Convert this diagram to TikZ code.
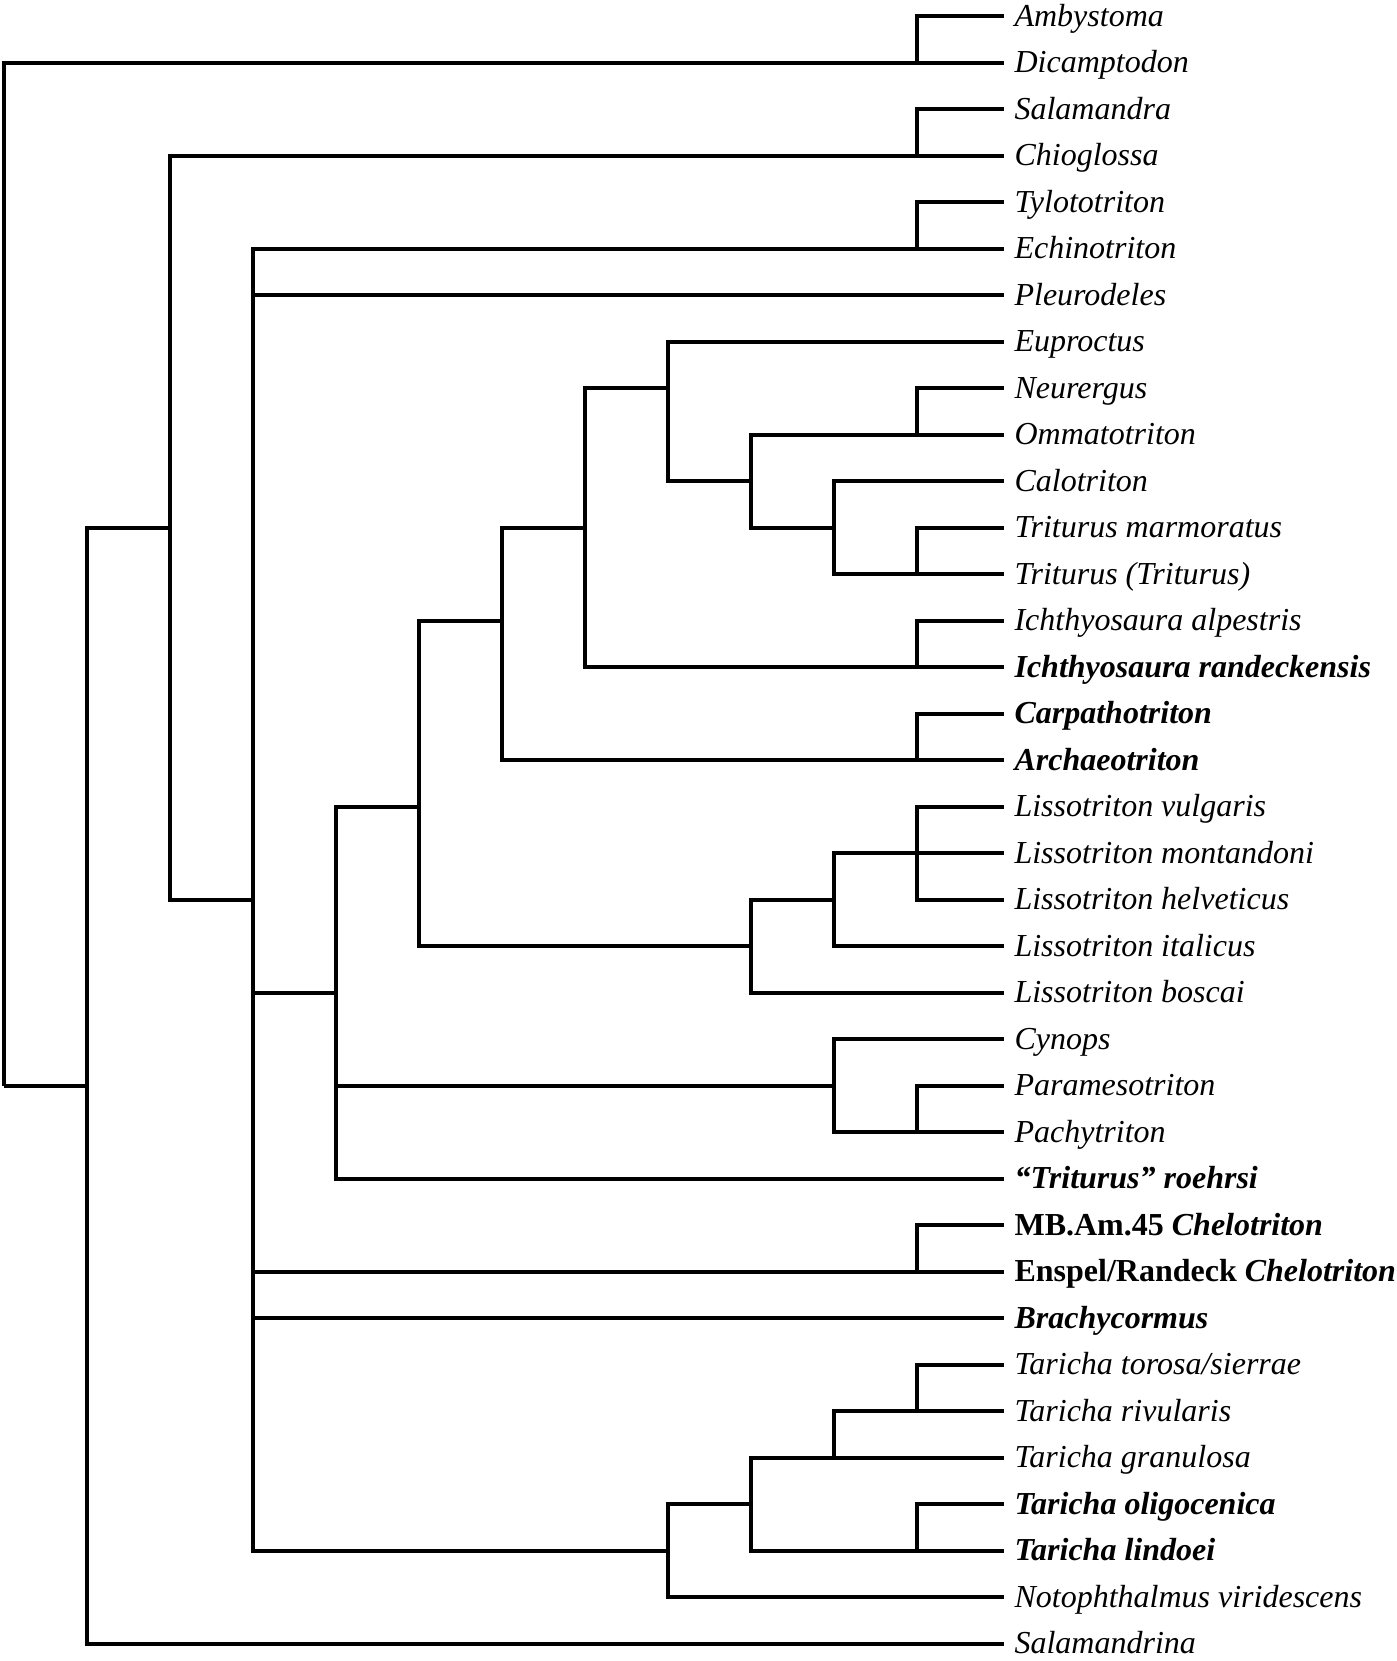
\documentclass[tikz,border=0pt]{standalone}
\usepackage{fontspec}
\setmainfont{Liberation Serif}
\tikzset{
  branch/.style={line width=2pt},
  taxon/.style={anchor=west, inner xsep=5pt, inner ysep=0pt,
    text height=12pt, text depth=2pt,
    font=\fontsize{16}{19}\selectfont\itshape},
  fossil/.style={taxon, font=\fontsize{16}{19}\selectfont\bfseries\itshape},
}
\begin{document}
\begin{tikzpicture}[
        x=41.5pt,
        y=-23.25pt,
        ]
        \useasboundingbox (-0.048,-0.344) rectangle (16.783,35.376);
        % taxa
        \node[taxon] (amb) at (12.05,0) {Ambystoma};
        \node[taxon] (dic) at (12.05,1) {Dicamptodon};
        \node[taxon] (sala) at (12.05,2) {Salamandra};
        \node[taxon] (chio) at (12.05,3) {Chioglossa};
        \node[taxon] (tylo) at (12.05,4) {Tylototriton};
        \node[taxon] (echi) at (12.05,5) {Echinotriton};
        \node[taxon] (pleu) at (12.05,6) {Pleurodeles};
        \node[taxon] (eupr) at (12.05,7) {Euproctus};
        \node[taxon] (neur) at (12.05,8) {Neurergus};
        \node[taxon] (omma) at (12.05,9) {Ommatotriton};
        \node[taxon] (calo) at (12.05,10) {Calotriton};
        \node[taxon] (tmar) at (12.05,11) {Triturus marmoratus};
        \node[taxon] (ttri) at (12.05,12) {Triturus (Triturus)};
        \node[taxon] (ialp) at (12.05,13) {Ichthyosaura alpestris};
        \node[fossil] (iran) at (12.05,14) {Ichthyosaura randeckensis};
        \node[fossil] (carp) at (12.05,15) {Carpathotriton};
        \node[fossil] (arch) at (12.05,16) {Archaeotriton};
        \node[taxon] (lvul) at (12.05,17) {Lissotriton vulgaris};
        \node[taxon] (lmon) at (12.05,18) {Lissotriton montandoni};
        \node[taxon] (lhel) at (12.05,19) {Lissotriton helveticus};
        \node[taxon] (lita) at (12.05,20) {Lissotriton italicus};
        \node[taxon] (lbos) at (12.05,21) {Lissotriton boscai};
        \node[taxon] (cyno) at (12.05,22) {Cynops};
        \node[taxon] (para) at (12.05,23) {Paramesotriton};
        \node[taxon] (pach) at (12.05,24) {Pachytriton};
        \node[fossil] (roeh) at (12.05,25) {“Triturus” roehrsi};
        \node[fossil] (mbam) at (12.05,26) {{\upshape MB.Am.45} Chelotriton};
        \node[fossil] (ensp) at (12.05,27) {{\upshape Enspel/Randeck} Chelotriton};
        \node[fossil] (brac) at (12.05,28) {Brachycormus};
        \node[taxon] (ttor) at (12.05,29) {Taricha torosa/sierrae};
        \node[taxon] (triv) at (12.05,30) {Taricha rivularis};
        \node[taxon] (tgra) at (12.05,31) {Taricha granulosa};
        \node[fossil] (toli) at (12.05,32) {Taricha oligocenica};
        \node[fossil] (tlin) at (12.05,33) {Taricha lindoei};
        \node[taxon] (noto) at (12.05,34) {Notophthalmus viridescens};
        \node[taxon] (smdr) at (12.05,35) {Salamandrina};
        % clades: (depth, row of stem)
        \coordinate (root) at (0,23);
        \coordinate (ambdic) at (11,1);
        \coordinate (salam) at (1,23);
        \coordinate (salchio) at (11,3);
        \coordinate (c) at (2,11);
        \coordinate (d) at (3,19);
        \coordinate (tyloech) at (11,5);
        \coordinate (e) at (4,21);
        \coordinate (f) at (5,17);
        \coordinate (g) at (6,13);
        \coordinate (h) at (7,11);
        \coordinate (i) at (8,8);
        \coordinate (j) at (9,10);
        \coordinate (neuomm) at (11,9);
        \coordinate (k) at (10,11);
        \coordinate (trit) at (11,12);
        \coordinate (ichthy) at (11,14);
        \coordinate (carparch) at (11,16);
        \coordinate (lis1) at (9,20);
        \coordinate (lis2) at (10,19);
        \coordinate (lis3) at (11,18);
        \coordinate (cyn) at (10,23);
        \coordinate (parpach) at (11,24);
        \coordinate (chelo) at (11,27);
        \coordinate (tarnot) at (8,33);
        \coordinate (tar1) at (9,32);
        \coordinate (tar2) at (10,31);
        \coordinate (tar3) at (11,30);
        \coordinate (olilin) at (11,33);
        % branches
        \draw[branch] (root) |- (ambdic) (root) |- (salam);
        \draw[branch] (ambdic) |- (amb.west) (ambdic) |- (dic.west);
        \draw[branch] (salam) |- (c) (salam) |- (smdr.west);
        \draw[branch] (c) |- (salchio) (c) |- (d);
        \draw[branch] (salchio) |- (sala.west) (salchio) |- (chio.west);
        \draw[branch] (d) |- (tyloech) (d) |- (pleu.west) (d) |- (e)
                      (d) |- (chelo) (d) |- (brac.west) (d) |- (tarnot);
        \draw[branch] (tyloech) |- (tylo.west) (tyloech) |- (echi.west);
        \draw[branch] (e) |- (f) (e) |- (cyn) (e) |- (roeh.west);
        \draw[branch] (f) |- (g) (f) |- (lis1);
        \draw[branch] (g) |- (h) (g) |- (carparch);
        \draw[branch] (h) |- (i) (h) |- (ichthy);
        \draw[branch] (i) |- (eupr.west) (i) |- (j);
        \draw[branch] (j) |- (neuomm) (j) |- (k);
        \draw[branch] (neuomm) |- (neur.west) (neuomm) |- (omma.west);
        \draw[branch] (k) |- (calo.west) (k) |- (trit);
        \draw[branch] (trit) |- (tmar.west) (trit) |- (ttri.west);
        \draw[branch] (ichthy) |- (ialp.west) (ichthy) |- (iran.west);
        \draw[branch] (carparch) |- (carp.west) (carparch) |- (arch.west);
        \draw[branch] (lis1) |- (lis2) (lis1) |- (lbos.west);
        \draw[branch] (lis2) |- (lis3) (lis2) |- (lita.west);
        \draw[branch] (lis3) |- (lvul.west) (lis3) |- (lmon.west) (lis3) |- (lhel.west);
        \draw[branch] (cyn) |- (cyno.west) (cyn) |- (parpach);
        \draw[branch] (parpach) |- (para.west) (parpach) |- (pach.west);
        \draw[branch] (chelo) |- (mbam.west) (chelo) |- (ensp.west);
        \draw[branch] (tarnot) |- (tar1) (tarnot) |- (noto.west);
        \draw[branch] (tar1) |- (tar2) (tar1) |- (olilin);
        \draw[branch] (tar2) |- (tar3) (tar2) |- (tgra.west);
        \draw[branch] (tar3) |- (ttor.west) (tar3) |- (triv.west);
        \draw[branch] (olilin) |- (toli.west) (olilin) |- (tlin.west);
\end{tikzpicture}
\end{document}
